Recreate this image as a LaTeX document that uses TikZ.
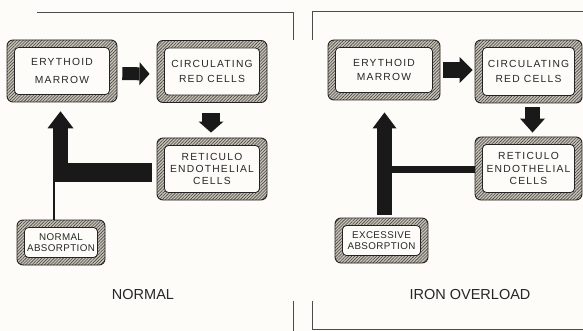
\documentclass[tikz,border=0pt]{standalone}
\usepackage{fontspec}
\setmainfont{Liberation Sans}
\newfontfamily\boxfnt[LetterSpace=12]{Liberation Sans}
\newfontfamily\smallfnt[LetterSpace=4]{Liberation Sans}
\usetikzlibrary{arrows.meta,patterns.meta,calc}
\definecolor{paper}{RGB}{253,252,248}
\definecolor{ink}{RGB}{35,35,35}
\definecolor{bandbg}{RGB}{200,196,186}
\definecolor{hatch}{RGB}{70,68,62}
\begin{document}
\begin{tikzpicture}[x=1pt,y=-1pt,
  cellbox/.style={draw=ink, line width=0.9pt, rounded corners=6pt,
    minimum width=110pt, minimum height=62pt, inner sep=0pt, align=center,
    font=\boxfnt\fontsize{10.3}{12.3}\selectfont, text=black!85,
    preaction={fill=bandbg},
    pattern={Lines[angle=45,distance=2.2pt,line width=0.6pt]}, pattern color=hatch,
    path picture={\draw[ink, line width=0.8pt, fill=paper, rounded corners=4pt]
      ([shift={(7.5pt,7.5pt)}]path picture bounding box.south west) rectangle
      ([shift={(-7.5pt,-7.5pt)}]path picture bounding box.north east);}},
  smallbox/.style={cellbox, minimum width=90pt, minimum height=45pt,
    font=\smallfnt\fontsize{9.8}{11.5}\selectfont},
  frame/.style={draw=black!70, line width=0.8pt},
  caption/.style={font=\fontsize{14.5}{17}\selectfont, text=black!85},
  flow/.style={draw=black!90}
]
\useasboundingbox (0,0) rectangle (583,331);
\fill[paper] (0,0) rectangle (583,331);

% panel frames
\draw[frame] (37,12) -- (293,12) -- (293,40);
\draw[frame] (293,301) -- (293,331);
\draw[frame] (312,40) -- (312,11) -- (583,11);
\draw[frame] (312,301) -- (312,329) -- (583,329);

% ---------- NORMAL ----------
\node[cellbox] (emL) at (62,71) {ERYTHOID\\[5pt]MARROW};
\node[cellbox] (crL) at (212,71.5) {CIRCULATING\\[3pt]RED CELLS};
\node[cellbox] (reL) at (212,169) {RETICULO\\ENDOTHELIAL\\CELLS};
\node[smallbox, minimum width=88pt] (naL) at (61,242.5) {NORMAL\\[-1pt]ABSORPTION};
\node[caption] (capL) at (143,295) {NORMAL};

\draw[flow, line width=13pt, -{Triangle[length=10pt,width=23pt,line width=0pt]},
  shorten <=5pt, shorten >=7pt] ([yshift=-2.5pt]emL.east) -- ([yshift=-2.5pt]crL.west);
\draw[flow, line width=18pt, -{Triangle[length=11pt,width=25pt,line width=0pt]},
  shorten <=10pt, shorten >=5pt] ([xshift=-1pt]crL.south) -- ([xshift=-1pt]reL.north);
\coordinate (bL) at (60.5,182);
\coordinate (hL) at (53,172.5);
\coordinate (tL) at (54,182);
\draw[flow, line width=15pt, -{Triangle[length=17pt,width=26pt,line width=0pt]},
  shorten >=9pt] (bL) -- (bL |- emL.south);
\draw[flow, line width=19pt, shorten <=5pt] (reL.west |- hL) -- (hL);
\draw[flow, line width=1.3pt] (tL) -- (tL |- naL.north);

% ---------- IRON OVERLOAD ----------
\node[cellbox, minimum width=112pt, minimum height=60pt] (emR) at (384,70) {ERYTHOID\\[2pt]MARROW};
\node[cellbox, minimum width=107pt, minimum height=63pt] (crR) at (528.5,71.5) {CIRCULATING\\[3pt]RED CELLS};
\node[cellbox, minimum width=107pt, minimum height=63pt] (reR) at (528.5,168.5) {RETICULO\\ENDOTHELIAL\\CELLS};
\node[smallbox, minimum width=93pt] (xaR) at (381.5,240.5) {EXCESSIVE\\[0pt]ABSORPTION};
\node[caption] (capR) at (470,295) {IRON OVERLOAD};

\draw[flow, line width=16pt, -{Triangle[length=13pt,width=26pt,line width=0pt]},
  shorten <=3pt, shorten >=2pt] (emR.east) -- (emR.east -| crR.west);
\draw[flow, line width=15pt, -{Triangle[length=14pt,width=25pt,line width=0pt]},
  shorten <=4pt, shorten >=4pt] ([xshift=4pt]crR.south) -- ([xshift=4pt]reR.north);
\coordinate (jR) at (384.5,169.5);
\draw[flow, line width=15pt, -{Triangle[length=16pt,width=24pt,line width=0pt]},
  shorten <=3pt, shorten >=12pt] (jR |- xaR.north) -- (jR |- emR.south);
\draw[flow, line width=7pt] (reR.west |- jR) -- (jR);
\end{tikzpicture}
\end{document}
